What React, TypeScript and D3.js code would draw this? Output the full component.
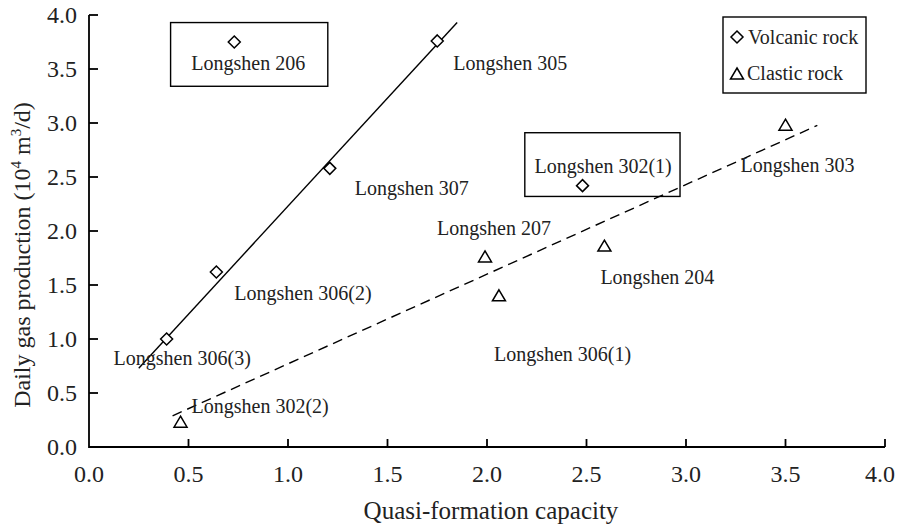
import React from "react";
import * as d3 from "d3";

const WIDTH = 897;
const HEIGHT = 527;
const MARGIN = { top: 15, right: 12, bottom: 80, left: 89 };
const FONT = "Liberation Serif, Times New Roman, serif";

// wells: name, quasi-formation capacity, daily gas production
const volcanicNames = ["Longshen 206", "Longshen 305", "Longshen 307", "Longshen 306(2)", "Longshen 306(3)", "Longshen 302(1)"];
const volcanicX = [0.73, 1.75, 1.21, 0.64, 0.39, 2.48];
const volcanicY = [3.75, 3.76, 2.58, 1.62, 1.0, 2.42];

const clasticNames = ["Longshen 302(2)", "Longshen 207", "Longshen 306(1)", "Longshen 204", "Longshen 303"];
const clasticX = [0.46, 1.99, 2.06, 2.59, 3.5];
const clasticY = [0.23, 1.76, 1.4, 1.86, 2.98];

// trend lines: [slope, intercept], x range
const volcanicFit = [2.0, 0.23];
const volcanicFitRange = [0.25, 1.85];
const clasticFit = [0.83, -0.06];
const clasticFitRange = [0.42, 3.66];

// highlighted wells boxes (data units: x0, x1, y0, y1)
const boxes = [
  [0.41, 1.2, 3.34, 3.93],
  [2.19, 2.97, 2.32, 2.91],
];

const xTicks = [0, 0.5, 1, 1.5, 2, 2.5, 3, 3.5, 4];
const yTicks = [0, 0.5, 1, 1.5, 2, 2.5, 3, 3.5, 4];

// label offsets from the marker (px)
const LABEL_OFFSETS: Record<string, [number, number]> = {
  "Longshen 206": [-43, 28],
  "Longshen 305": [16, 29],
  "Longshen 307": [25, 27],
  "Longshen 306(2)": [18, 28],
  "Longshen 306(3)": [-53, 26],
  "Longshen 302(1)": [-48, -13],
  "Longshen 302(2)": [11, -9],
  "Longshen 207": [-48, -22],
  "Longshen 306(1)": [-5, 65],
  "Longshen 204": [-4, 38],
  "Longshen 303": [-45, 47],
};

const Diamond = ({ x, y }: { x: number; y: number }) => (
  <path
    d={`M${x},${y - 6}L${x + 6},${y}L${x},${y + 6}L${x - 6},${y}Z`}
    fill="#fff"
    stroke="#000"
    strokeWidth={1.5}
  />
);

const Triangle = ({ x, y }: { x: number; y: number }) => (
  <path
    d={`M${x},${y - 6}L${x + 6.5},${y + 5}L${x - 6.5},${y + 5}Z`}
    fill="none"
    stroke="#000"
    strokeWidth={1.5}
  />
);

export default function App() {
  const xScale = d3.scaleLinear().domain([0, 4]).range([MARGIN.left, WIDTH - MARGIN.right]);
  const yScale = d3.scaleLinear().domain([0, 4]).range([HEIGHT - MARGIN.bottom, MARGIN.top]);
  const x0 = xScale(0);
  const y0 = yScale(0);

  const fitPath = (fit: number[], range: number[]) =>
    d3
      .line<number>()
      .x((d) => xScale(d))
      .y((d) => yScale(fit[0] * d + fit[1]))(range) as string;

  const volcanic = volcanicNames.map((n, i) => ({ name: n, x: volcanicX[i], y: volcanicY[i] }));
  const clastic = clasticNames.map((n, i) => ({ name: n, x: clasticX[i], y: clasticY[i] }));

  return (
    <svg
      width={WIDTH}
      height={HEIGHT}
      style={{ position: "absolute", left: 0, top: 0, background: "#fff", fontFamily: FONT }}
    >
      {/* trend lines */}
      <path d={fitPath(volcanicFit, volcanicFitRange)} fill="none" stroke="#000" strokeWidth={1.4} />
      <path
        d={fitPath(clasticFit, clasticFitRange)}
        fill="none"
        stroke="#000"
        strokeWidth={1.4}
        strokeDasharray="10,6"
      />

      {/* boxes */}
      {boxes.map((b, i) => (
        <rect
          key={i}
          x={xScale(b[0])}
          y={yScale(b[3])}
          width={xScale(b[1]) - xScale(b[0])}
          height={yScale(b[2]) - yScale(b[3])}
          fill="none"
          stroke="#000"
          strokeWidth={1.4}
        />
      ))}

      {/* axes */}
      <path d={`M${x0},${yScale(4)}V${y0}H${xScale(4)}`} fill="none" stroke="#000" strokeWidth={1.8} />
      {yTicks.map((t) => (
        <g key={"y" + t}>
          <line x1={x0} x2={x0 + 9} y1={yScale(t)} y2={yScale(t)} stroke="#000" strokeWidth={1.8} />
          <text x={x0 - 12} y={yScale(t) + 8} textAnchor="end" fontSize={24} fill="#222">
            {d3.format(".1f")(t)}
          </text>
        </g>
      ))}
      {xTicks.map((t, i) => {
        const last = i === xTicks.length - 1;
        return (
          <g key={"x" + t}>
            {t > 0 && (
              <line x1={xScale(t)} x2={xScale(t)} y1={y0} y2={y0 - 8} stroke="#000" strokeWidth={1.8} />
            )}
            <text
              x={last ? WIDTH - 2 : xScale(t)}
              y={y0 + 35}
              textAnchor={last ? "end" : "middle"}
              fontSize={24}
              fill="#222"
            >
              {d3.format(".1f")(t)}
            </text>
          </g>
        );
      })}

      {/* axis titles */}
      <text x={(xScale(0) + xScale(4)) / 2 + 4} y={519} textAnchor="middle" fontSize={25} fill="#222">
        Quasi-formation capacity
      </text>
      <text transform="translate(30,255) rotate(-90)" textAnchor="middle" fontSize={24} fill="#222">
        Daily gas production (10
        <tspan fontSize={15} dy={-9}>4</tspan>
        <tspan dy={9}> m</tspan>
        <tspan fontSize={15} dy={-9}>3</tspan>
        <tspan dy={9}>/d)</tspan>
      </text>

      {/* markers */}
      {volcanic.map((d) => (
        <Diamond key={d.name} x={xScale(d.x)} y={yScale(d.y)} />
      ))}
      {clastic.map((d) => (
        <Triangle key={d.name} x={xScale(d.x)} y={yScale(d.y)} />
      ))}

      {/* labels */}
      {[...volcanic, ...clastic].map((d) => {
        const [dx, dy] = LABEL_OFFSETS[d.name];
        return (
          <text key={"l" + d.name} x={xScale(d.x) + dx} y={yScale(d.y) + dy} fontSize={20} fill="#222">
            {d.name}
          </text>
        );
      })}

      {/* legend */}
      <g>
        <rect x={723} y={17} width={143} height={76} fill="#fff" stroke="#000" strokeWidth={1.4} />
        <Diamond x={737} y={37} />
        <text x={748} y={44} fontSize={20} fill="#222">
          Volcanic rock
        </text>
        <Triangle x={737} y={74} />
        <text x={747} y={80} fontSize={20} fill="#222">
          Clastic rock
        </text>
      </g>
    </svg>
  );
}
